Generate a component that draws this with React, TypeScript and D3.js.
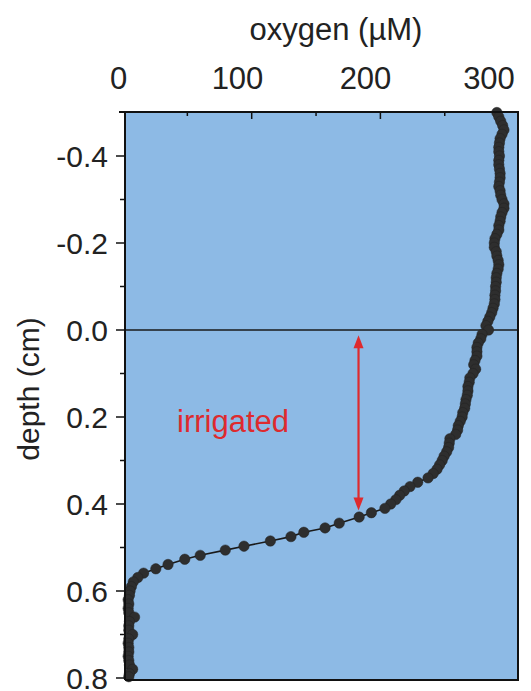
import React from "react";
import * as d3 from "d3";

const depthValues: number[] = [
  -0.5, -0.49, -0.48, -0.47, -0.46, -0.45, -0.44, -0.43, -0.42, -0.41,
  -0.4, -0.39, -0.38, -0.37, -0.36, -0.35, -0.34, -0.33, -0.32, -0.31,
  -0.3, -0.29, -0.28, -0.27, -0.26, -0.25, -0.24, -0.23, -0.22, -0.21,
  -0.2, -0.19, -0.18, -0.17, -0.16, -0.15, -0.14, -0.13, -0.12, -0.11,
  -0.1, -0.09, -0.08, -0.07, -0.06, -0.05, -0.04, -0.03, -0.02, -0.01,
  0.0, 0.01, 0.02, 0.03, 0.04, 0.05, 0.06, 0.07, 0.08, 0.09,
  0.1, 0.11, 0.12, 0.13, 0.14, 0.15, 0.16, 0.17, 0.18, 0.19,
  0.2, 0.21, 0.22, 0.23, 0.24, 0.25, 0.26, 0.27, 0.28, 0.29,
  0.3, 0.31, 0.32, 0.33, 0.34, 0.35, 0.36, 0.37, 0.38, 0.39,
  0.4, 0.41, 0.42, 0.43, 0.444, 0.455, 0.465, 0.475, 0.485, 0.497,
  0.506, 0.518, 0.527, 0.539, 0.549, 0.559, 0.569, 0.579, 0.59, 0.6,
  0.61, 0.62, 0.63, 0.64, 0.65, 0.66, 0.67, 0.68, 0.69, 0.7,
  0.71, 0.72, 0.73, 0.74, 0.75, 0.76, 0.77, 0.78, 0.79, 0.797,
];

const oxygenValues: number[] = [
  290.5, 292, 293.5, 295, 296, 294.5, 293, 292.5, 292, 292,
  292.5, 292, 292, 292.5, 293, 293, 292.5, 292, 293, 293.5,
  294.5, 296, 296, 294.5, 293.5, 293, 292, 292, 290.5, 289,
  288.5, 288.5, 290, 290.5, 291.5, 292, 291.5, 290.5, 290, 290,
  289.5, 289.5, 289, 289, 288.5, 287.5, 286.5, 285, 283.5, 282,
  284, 279, 278, 276, 275, 275, 275, 273.5, 272.5, 274,
  272, 269.5, 269, 268, 268, 267.5, 266.5, 266, 265.5, 264,
  263.5, 262, 260.5, 260, 258.5, 254, 253.5, 253, 251.5, 249.5,
  248, 246, 244, 241, 237, 229, 223, 218.5, 215, 212,
  208, 203.5, 193, 183.5, 168, 157, 140.5, 130.5, 114.5, 94,
  79.5, 60, 48, 35, 25.5, 16, 11.5, 8, 6.5, 5.5,
  5, 4, 4.5, 4, 4.5, 9, 5, 4.5, 4.5, 7.5,
  4.5, 4, 4.5, 4.5, 4, 4.5, 5, 7.5, 5, 4.5,
];

const xTickLabels: number[] = [0, 100, 200, 300];
const xMinorTicks: number[] = [50, 150, 250];
const xMajorTicks: number[] = [100, 200];
const yTickLabels: number[] = [-0.4, -0.2, 0.0, 0.2, 0.4, 0.6, 0.8];
const yMinorTicks: number[] = [-0.3, -0.1, 0.1, 0.3, 0.5, 0.7];
const arrowOxygen = 183;
const arrowDepths: number[] = [0.012, 0.415];
const annotationText = "irrigated";

export default function App() {
  const W = 531;
  const H = 691;
  const left = 125, right = 518, top = 112, bottom = 680;

  const x = d3.scaleLinear().domain([0, 300]).range([123, 509.1]);
  const y = d3.scaleLinear().domain([-0.4, 0.8]).range([156, 678]);
  const xLabel = d3.scaleLinear().domain([0, 100, 200, 300]).range([118.5, 237.5, 365.5, 489]);

  const pts = depthValues.map((d, i) => [oxygenValues[i], d] as [number, number]);
  const line = d3.line<[number, number]>().x((p) => x(p[0])).y((p) => y(p[1]));

  const font = "'Liberation Sans', Arial, Helvetica, sans-serif";
  const red = "#de2a2e";
  const ax = x(arrowOxygen);
  const ay0 = y(arrowDepths[0]);
  const ay1 = y(arrowDepths[1]);
  const ah = 13, aw = 5;

  return (
    <svg width={W} height={H} style={{ position: "absolute", left: 0, top: 0, background: "#fff" }}>
      <rect x={left} y={top} width={right - left} height={bottom - top} fill="#8dbae5" />
      {/* zero line */}
      <line x1={left} x2={right} y1={y(0)} y2={y(0)} stroke="#1a1a1a" strokeWidth={1.5} />
      {/* arrow */}
      <line x1={ax} x2={ax} y1={ay0 + ah - 1} y2={ay1 - ah + 1} stroke={red} strokeWidth={2.2} />
      <path d={`M${ax},${ay0} L${ax - aw},${ay0 + ah} L${ax + aw},${ay0 + ah} Z`} fill={red} />
      <path d={`M${ax},${ay1} L${ax - aw},${ay1 - ah} L${ax + aw},${ay1 - ah} Z`} fill={red} />
      <text x={x(42)} y={y(0.2345)} fontFamily={font} fontSize={31} fill={red}>
        {annotationText}
      </text>
      {/* data */}
      <path d={line(pts) || ""} fill="none" stroke="#1a1a1a" strokeWidth={1.6} />
      {pts.map((p, i) => (
        <circle key={i} cx={x(p[0])} cy={y(p[1])} r={5.2} fill="#2e2e2e" stroke="#222" strokeWidth={0.5} />
      ))}
      {/* frame */}
      <line x1={119} x2={right + 1} y1={top} y2={top} stroke="#111" strokeWidth={2} />
      <line x1={left} x2={right + 1} y1={bottom} y2={bottom} stroke="#111" strokeWidth={2} />
      <line x1={left} x2={left} y1={top} y2={bottom} stroke="#111" strokeWidth={2} />
      <line x1={right} x2={right} y1={top} y2={bottom} stroke="#111" strokeWidth={2} />
      {/* top ticks (inward) */}
      {xMinorTicks.map((v) => (
        <line key={"xm" + v} x1={x(v)} x2={x(v)} y1={top} y2={top + 4} stroke="#111" strokeWidth={1.5} />
      ))}
      {xMajorTicks.map((v) => (
        <line key={"xM" + v} x1={x(v)} x2={x(v)} y1={top} y2={top + 7} stroke="#111" strokeWidth={1.5} />
      ))}
      {xTickLabels.map((v) => (
        <text key={"xl" + v} x={xLabel(v)} y={89} textAnchor="middle" fontFamily={font} fontSize={31} fill="#222">
          {v}
        </text>
      ))}
      <text x={336} y={40} textAnchor="middle" fontFamily={font} fontSize={31} fill="#222">
        oxygen (µM)
      </text>
      {/* left ticks (outward) */}
      {yTickLabels.map((v) => (
        <g key={"yl" + v}>
          <line x1={left - 9} x2={left} y1={y(v)} y2={y(v)} stroke="#111" strokeWidth={1.5} />
          <text x={108} y={y(v)} dy="0.36em" textAnchor="end" fontFamily={font} fontSize={30} fill="#222">
            {d3.format(".1f")(v).replace("−", "-")}
          </text>
        </g>
      ))}
      {yMinorTicks.map((v) => (
        <line key={"ym" + v} x1={left - 5} x2={left} y1={y(v)} y2={y(v)} stroke="#111" strokeWidth={1.5} />
      ))}
      <text
        transform={`translate(39,389) rotate(-90)`}
        textAnchor="middle"
        fontFamily={font}
        fontSize={30}
        fill="#222"
      >
        depth (cm)
      </text>
    </svg>
  );
}
